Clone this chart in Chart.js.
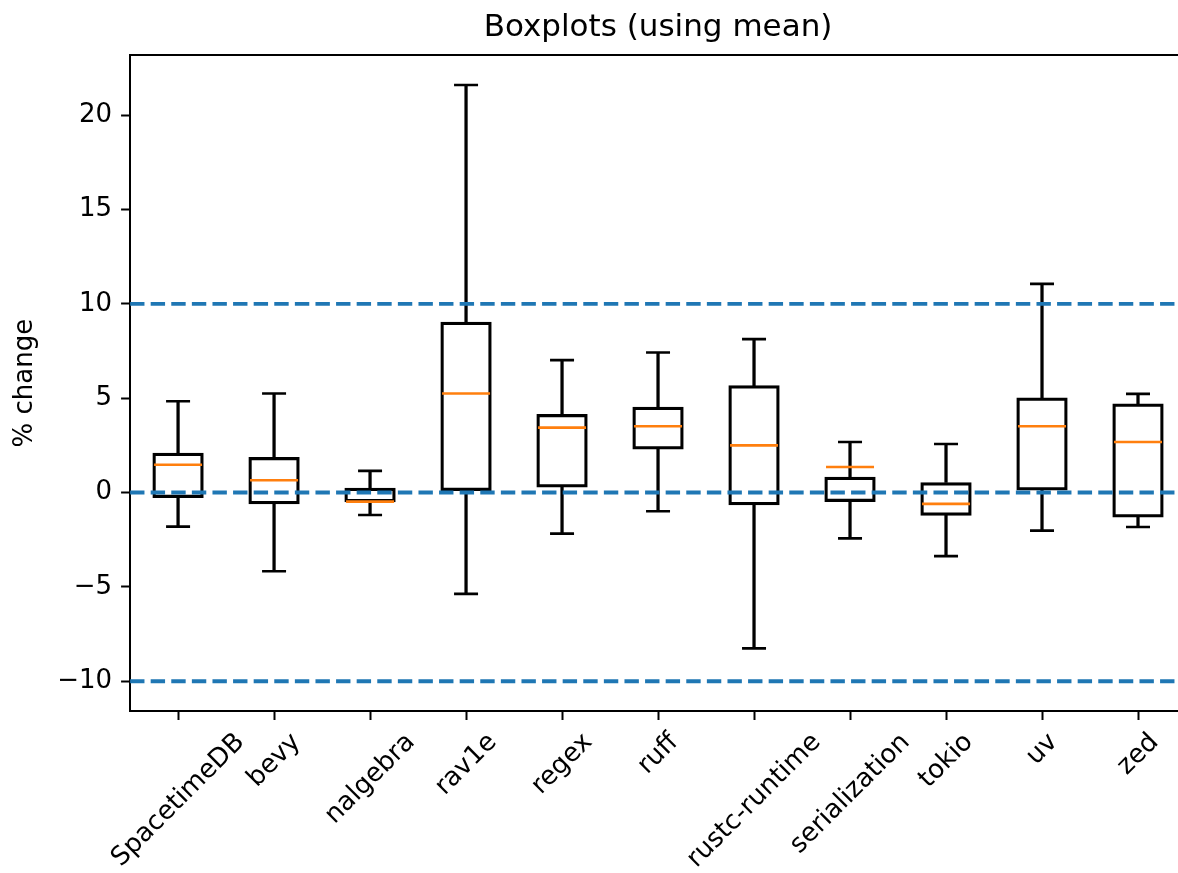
<!DOCTYPE html>
<html lang="en">
<head>
    <meta charset="UTF-8">
    <title>Boxplots (using mean)</title>
    <style>
        html, body {
            margin: 0;
            padding: 0;
            background: #fff;
            overflow: hidden;
        }

        /* the canvas is a bit wider than the window: the right edge of the axes falls off-screen */
        #boxplots {
            display: block;
        }
    </style>
    <script src="https://cdn.jsdelivr.net/npm/chart.js"></script>
</head>
<body>
    <canvas id="boxplots" width="1200" height="873"></canvas>

    <script>
        // benchmark suites on the x axis
        const benchmarks = ['SpacetimeDB', 'bevy', 'nalgebra', 'rav1e', 'regex', 'ruff',
            'rustc-runtime', 'serialization', 'tokio', 'uv', 'zed'];

        // box statistics, % change
        const whiskerLow  = [-1.81, -4.17, -1.19, -5.37, -2.18, -0.99, -8.26, -2.43, -3.37, -2.02, -1.83];
        const q1          = [-0.27, -0.60, -0.50,  0.10,  0.28,  2.30, -0.66, -0.48, -1.21,  0.12, -1.31];
        const means       = [ 1.47,  0.65, -0.48,  5.25,  3.44,  3.51,  2.50,  1.35, -0.60,  3.51,  2.68];
        const q3          = [ 2.09,  1.86,  0.23,  9.03,  4.14,  4.53,  5.67,  0.82,  0.53,  5.02,  4.70];
        const whiskerHigh = [ 4.84,  5.25,  1.15, 21.60,  7.02,  7.42,  8.13,  2.68,  2.57, 11.06,  5.23];

        // dashed reference lines
        const thresholds = [-10, 0, 10];
        const yTicks = [-10, -5, 0, 5, 10, 15, 20];

        const FONT = 'DejaVu Sans';
        const BLUE = '#1f77b4';
        const ORANGE = '#ff7f0e';

        // x tick labels, rotated 45 deg with the rotated box centred under the tick
        const rotatedLabels = {
            id: 'rotatedLabels',
            afterDraw(chart) {
                const xs = chart.scales.x;
                const ctx = chart.ctx;
                const size = 26;
                ctx.save();
                ctx.font = size + 'px "' + FONT + '"';
                ctx.fillStyle = '#000';
                ctx.textAlign = 'center';
                ctx.textBaseline = 'alphabetic';
                const top = xs.top + 9 + 9;
                benchmarks.forEach((name, i) => {
                    const w = ctx.measureText(name).width;
                    const h = size * 0.97;
                    const half = (w + h) / (2 * Math.SQRT2);
                    ctx.save();
                    ctx.translate(xs.getPixelForTick(i), top + half);
                    ctx.rotate(-Math.PI / 4);
                    ctx.fillText(name, 0, size * 0.276);
                    ctx.restore();
                });
                ctx.restore();
            }
        };

        const lineAt = v => [{ x: 0.5, y: v }, { x: 11.5, y: v }];

        new Chart(document.getElementById('boxplots'), {
            type: 'bar',
            data: {
                labels: benchmarks,
                datasets: [
                    // reference lines on top of everything
                    ...thresholds.map(t => ({
                        type: 'line',
                        xAxisID: 'xl',
                        data: lineAt(t),
                        borderColor: BLUE,
                        borderWidth: 3.9,
                        borderDash: [14.4, 6.2],
                        pointRadius: 0,
                        order: 0
                    })),
                    {
                        type: 'line',
                        label: 'mean',
                        data: means,
                        showLine: false,
                        pointStyle: 'line',
                        pointRadius: 24,
                        pointBorderWidth: 2.6,
                        pointBorderColor: ORANGE,
                        order: 1
                    },
                    {
                        type: 'line',
                        label: 'cap high',
                        data: whiskerHigh,
                        showLine: false,
                        pointStyle: 'line',
                        pointRadius: 12,
                        pointBorderWidth: 2.6,
                        pointBorderColor: '#000',
                        order: 2
                    },
                    {
                        type: 'line',
                        label: 'cap low',
                        data: whiskerLow,
                        showLine: false,
                        pointStyle: 'line',
                        pointRadius: 12,
                        pointBorderWidth: 2.6,
                        pointBorderColor: '#000',
                        order: 2
                    },
                    {
                        label: 'box',
                        data: q1.map((v, i) => [v, q3[i]]),
                        backgroundColor: 'rgba(0,0,0,0)',
                        borderColor: '#000',
                        borderWidth: 2.6,
                        borderSkipped: false,
                        barThickness: 50.6,
                        grouped: false,
                        order: 3
                    },
                    {
                        label: 'whisker low',
                        data: whiskerLow.map((v, i) => [v, q1[i]]),
                        backgroundColor: '#000',
                        borderWidth: 0,
                        barThickness: 2.6,
                        grouped: false,
                        order: 4
                    },
                    {
                        label: 'whisker high',
                        data: q3.map((v, i) => [v, whiskerHigh[i]]),
                        backgroundColor: '#000',
                        borderWidth: 0,
                        barThickness: 2.6,
                        grouped: false,
                        order: 4
                    }
                ]
            },
            options: {
                responsive: false,
                animation: false,
                events: [],
                layout: {
                    // the wide mean markers would otherwise add extra padding
                    autoPadding: false,
                    padding: { left: 10, right: 14, top: 0, bottom: 153 }
                },
                plugins: {
                    legend: { display: false },
                    tooltip: { enabled: false },
                    title: {
                        display: true,
                        text: 'Boxplots (using mean)',
                        fullSize: false,
                        color: '#000',
                        font: { family: FONT, size: 31, weight: 'normal' },
                        padding: { top: 9, bottom: 9 }
                    }
                },
                scales: {
                    x: {
                        offset: true,
                        grid: {
                            offset: false,
                            drawOnChartArea: false,
                            drawTicks: true,
                            tickLength: 9,
                            tickWidth: 2,
                            tickColor: '#000'
                        },
                        border: { display: true, color: '#000', width: 2 },
                        ticks: { display: false }
                    },
                    // top spine and span for the reference lines
                    xl: {
                        type: 'linear',
                        position: 'top',
                        offset: false,
                        min: 0.5,
                        max: 11.5,
                        grid: { offset: false, drawOnChartArea: false, drawTicks: false },
                        border: { display: true, color: '#000', width: 2 },
                        ticks: { display: false }
                    },
                    y: {
                        min: -11.58,
                        max: 23.18,
                        afterBuildTicks: scale => {
                            scale.ticks = yTicks.map(v => ({ value: v }));
                        },
                        grid: {
                            drawOnChartArea: false,
                            drawTicks: true,
                            tickLength: 9,
                            tickWidth: 2,
                            tickColor: '#000'
                        },
                        border: { display: true, color: '#000', width: 2 },
                        ticks: {
                            color: '#000',
                            padding: 9,
                            font: { family: FONT, size: 26 },
                            callback: v => v < 0 ? '\u2212' + Math.abs(v) : String(v)
                        },
                        title: {
                            display: true,
                            text: '% change',
                            color: '#000',
                            font: { family: FONT, size: 26 },
                            padding: { top: 0, bottom: 7 }
                        }
                    }
                }
            },
            plugins: [rotatedLabels]
        });
    </script>
</body>
</html>
